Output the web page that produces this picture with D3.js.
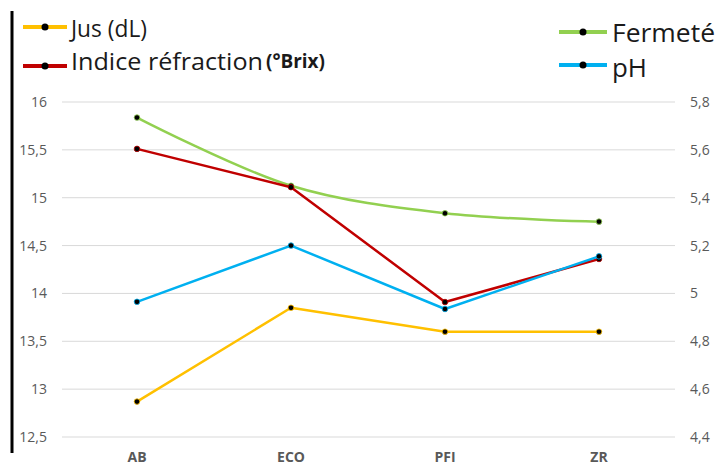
<!DOCTYPE html>
<html><head><meta charset="utf-8">
<script src="https://cdn.jsdelivr.net/npm/d3@7"></script>
<style>
html,body{margin:0;padding:0;background:#fff;}
svg{display:block;font-family:"Open Sans",sans-serif;}
</style></head>
<body>
<svg id="chart" width="716" height="466"></svg>
<script>
const categories = ["AB", "ECO", "PFI", "ZR"];
const jus = [12.87, 13.85, 13.60, 13.60];
const indice = [15.51, 15.11, 13.91, 14.36];
const fermete = [5.735, 5.45, 5.335, 5.30];
const ph = [4.965, 5.20, 4.935, 5.155];
const leftTicks = [12.5, 13, 13.5, 14, 14.5, 15, 15.5, 16];
const rightTicks = [4.4, 4.6, 4.8, 5, 5.2, 5.4, 5.6, 5.8];

const svg = d3.select("#chart");
const x = d3.scaleBand().domain(categories).range([60, 676]).padding(0);
const cx = c => x(c) + x.bandwidth() / 2;
const yL = d3.scaleLinear().domain([12.5, 16]).range([437, 102]);
const yR = d3.scaleLinear().domain([4.4, 5.8]).range([437, 102]);
const fmt = d => String(d).replace(".", ",");

// gridlines
svg.append("g").selectAll("line").data(leftTicks).join("line")
  .attr("x1", 62).attr("x2", 675)
  .attr("y1", d => yL(d)).attr("y2", d => yL(d))
  .attr("stroke", "#d9d9d9").attr("stroke-width", 1);

// axes
const gl = svg.append("g").attr("transform", "translate(62,0)")
  .call(d3.axisLeft(yL).tickValues(leftTicks).tickFormat(fmt).tickSize(0).tickPadding(15));
const gr = svg.append("g").attr("transform", "translate(675,0)")
  .call(d3.axisRight(yR).tickValues(rightTicks).tickFormat(fmt).tickSize(0).tickPadding(15));
[gl, gr].forEach(g => {
  g.select(".domain").remove();
  g.selectAll("text").attr("fill", "#595959").style("font-size", "14px").style("font-family", "'Open Sans',sans-serif");
});

const gx = svg.append("g").attr("transform", "translate(0,437)")
  .call(d3.axisBottom(x).tickSize(0).tickPadding(0));
gx.select(".domain").remove();
gx.selectAll("text").attr("fill", "#595959").attr("y", 0).attr("dy", "25px")
  .style("font-size", "14px").style("font-weight", "bold").style("font-family", "'Open Sans',sans-serif");

// series
const series = [
  {name: "jus", values: jus, y: yL, color: "#FFC000", curve: d3.curveLinear},
  {name: "indice", values: indice, y: yL, color: "#C00000", curve: d3.curveLinear},
  {name: "fermete", values: fermete, y: yR, color: "#92D050", curve: d3.curveCatmullRom.alpha(0.5)},
  {name: "ph", values: ph, y: yR, color: "#00B0F0", curve: d3.curveLinear}
];
const drawOrder = [series[0], series[2], series[1], series[3]];
drawOrder.forEach(s => {
  const pts = categories.map((c, i) => [cx(c), s.y(s.values[i])]);
  svg.append("path").datum(pts)
    .attr("d", d3.line().curve(s.curve))
    .attr("fill", "none").attr("stroke", s.color).attr("stroke-width", 2.5)
    .attr("stroke-linejoin", "round").attr("stroke-linecap", "round");
  svg.append("g").selectAll("circle").data(pts).join("circle")
    .attr("cx", d => d[0]).attr("cy", d => d[1]).attr("r", 2.8)
    .attr("fill", "#000").attr("stroke", s.color).attr("stroke-width", 0.8);
});

// left black bar
svg.append("line").attr("x1", 12).attr("x2", 12).attr("y1", 11).attr("y2", 453)
  .attr("stroke", "#000").attr("stroke-width", 3);

// legends
function legendItem(x0, x1, ly, color) {
  svg.append("line").attr("x1", x0).attr("x2", x1).attr("y1", ly).attr("y2", ly)
    .attr("stroke", color).attr("stroke-width", 4);
  svg.append("circle").attr("cx", (x0 + x1) / 2).attr("cy", ly).attr("r", 3.5).attr("fill", "#000");
}
function legendText(txt, x0, by, size, len, weight) {
  svg.append("text").attr("x", x0).attr("y", by).text(txt)
    .attr("fill", "#1a1a1a").style("font-size", size + "px").style("font-weight", weight || "normal")
    .attr("textLength", len).attr("lengthAdjust", "spacingAndGlyphs");
}
legendItem(23, 67, 27, "#FFC000");
legendText("Jus (dL)", 71, 37, 23, 76, "500");
legendItem(23, 67, 66, "#C00000");
legendText("Indice réfraction", 71, 70, 23, 192);
legendText("(°Brix)", 266, 68, 19, 59, "bold");
legendItem(559, 607, 32, "#92D050");
legendText("Fermeté", 612, 42, 25, 103);
legendItem(559, 607, 65, "#00B0F0");
legendText("pH", 612, 77, 25, 35);
</script>
</body></html>
